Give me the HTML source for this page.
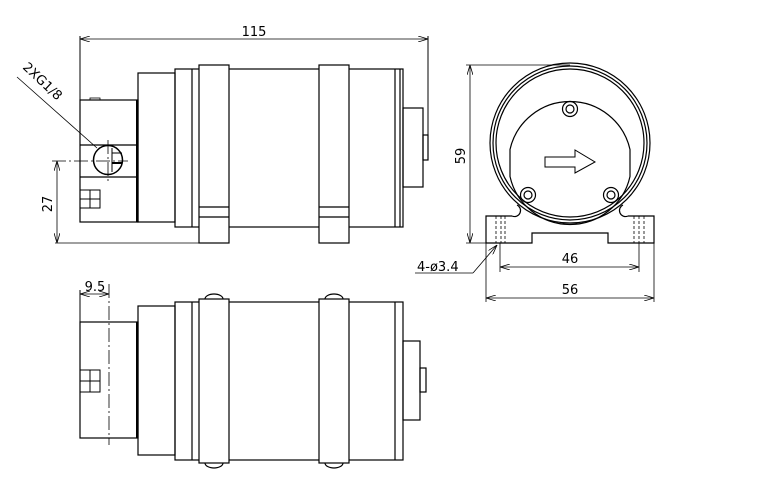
<!DOCTYPE html>
<html><head><meta charset="utf-8"><style>
html,body{margin:0;padding:0;background:#fff;}
svg{display:block;}
text{font-family:"DejaVu Sans","Liberation Sans",sans-serif;font-size:13px;fill:#000;}
</style></head><body>
<svg width="768" height="477" viewBox="0 0 768 477" xmlns="http://www.w3.org/2000/svg">
<defs>
<marker id="a" viewBox="0 0 10 6" refX="10" refY="3" markerWidth="10" markerHeight="6" orient="auto-start-reverse" markerUnits="userSpaceOnUse"><path d="M0,0 L10,3 L0,6" fill="none" stroke="#000" stroke-width="0.8"/></marker>
</defs>
<g fill="none" stroke="#000" stroke-width="1.2">
<!-- TOP VIEW -->
<line x1="80" y1="36" x2="80" y2="100" stroke-width="1"/>
<line x1="428" y1="36" x2="428" y2="140" stroke-width="1"/>
<line x1="80" y1="39" x2="428" y2="39" stroke-width="0.8" marker-start="url(#a)" marker-end="url(#a)"/>
<rect x="80" y="100" width="58" height="122"/>
<rect x="90" y="98" width="10" height="2" stroke-width="0.8"/>
<line x1="80" y1="145" x2="138" y2="145"/>
<line x1="80" y1="177" x2="138" y2="177"/>
<line x1="137" y1="100" x2="137" y2="222" stroke-width="2"/>
<rect x="138" y="73" width="37" height="149"/>
<rect x="175" y="69" width="228" height="158"/>
<line x1="192" y1="69" x2="192" y2="227"/>
<line x1="395" y1="69" x2="395" y2="227"/>
<line x1="400" y1="69" x2="400" y2="227"/>
<rect x="199" y="65" width="30" height="178" fill="#fff"/>
<rect x="319" y="65" width="30" height="178" fill="#fff"/>
<line x1="199" y1="207" x2="229" y2="207"/><line x1="199" y1="217" x2="229" y2="217"/>
<line x1="319" y1="207" x2="349" y2="207"/><line x1="319" y1="217" x2="349" y2="217"/>
<rect x="403" y="108" width="20" height="79"/>
<rect x="423" y="135" width="5" height="25"/>
<circle cx="108" cy="160" r="14.5" stroke-width="1.5"/>
<line x1="112" y1="148" x2="112" y2="172" stroke-width="1"/>
<line x1="112" y1="153" x2="122" y2="153" stroke-width="1"/>
<line x1="112" y1="163" x2="122" y2="163" stroke-width="2"/>
<line x1="52" y1="161" x2="128" y2="161" stroke-width="0.8" stroke-dasharray="14,3,2,3"/>
<line x1="108" y1="140" x2="108" y2="182" stroke-width="0.8" stroke-dasharray="14,3,2,3"/>
<line x1="55" y1="243" x2="199" y2="243" stroke-width="0.8"/>
<line x1="57" y1="161" x2="57" y2="243" stroke-width="0.8" marker-start="url(#a)" marker-end="url(#a)"/>
<rect x="80" y="190" width="20" height="18" stroke-width="1"/>
<line x1="90" y1="190" x2="90" y2="208" stroke-width="1"/>
<line x1="80" y1="199" x2="100" y2="199" stroke-width="1"/>
<line x1="17" y1="77" x2="97" y2="148" stroke-width="0.8"/>
<!-- BOTTOM VIEW -->
<line x1="80" y1="290" x2="80" y2="322" stroke-width="1"/>
<line x1="109" y1="284" x2="109" y2="445" stroke-width="0.8" stroke-dasharray="14,3,2,3"/>
<line x1="80" y1="294" x2="109" y2="294" stroke-width="0.8" marker-start="url(#a)" marker-end="url(#a)"/>
<rect x="80" y="322" width="58" height="116"/>
<line x1="137" y1="322" x2="137" y2="438" stroke-width="2"/>
<rect x="138" y="306" width="37" height="149"/>
<rect x="175" y="302" width="228" height="158"/>
<line x1="192" y1="302" x2="192" y2="460"/>
<line x1="395" y1="302" x2="395" y2="460"/>
<path d="M205,299 A9,5 0 0 1 223,299 M325,299 A9,5 0 0 1 343,299 M205,463 A9,5 0 0 0 223,463 M325,463 A9,5 0 0 0 343,463"/>
<rect x="199" y="299" width="30" height="164" fill="#fff"/>
<rect x="319" y="299" width="30" height="164" fill="#fff"/>
<rect x="403" y="341" width="17" height="79"/>
<rect x="420" y="368" width="6" height="24"/>
<rect x="80" y="370" width="20" height="22" stroke-width="1"/>
<line x1="90" y1="370" x2="90" y2="392" stroke-width="1"/>
<line x1="80" y1="381" x2="100" y2="381" stroke-width="1"/>
<!-- SIDE VIEW -->
<path d="M512,216 L486,216 L486,243 L532,243 L532,233 L608,233 L608,243 L654,243 L654,216 L628,216"/>
<path d="M512,216 A6,6 0 0 0 517,205 M628,216 A6,6 0 0 1 623,205"/>
<circle cx="570" cy="143" r="80"/>
<circle cx="570" cy="143" r="77"/>
<circle cx="570" cy="143" r="74"/>
<path d="M510,149.5 A61.5,61.5 0 0 1 630,149.5 L630,176.5 A61.5,61.5 0 0 1 510,176.5 Z"/>
<circle cx="570" cy="109" r="7.5"/><circle cx="570" cy="109" r="4"/>
<circle cx="528" cy="195" r="7.5"/><circle cx="528" cy="195" r="4"/>
<circle cx="611" cy="195" r="7.5"/><circle cx="611" cy="195" r="4"/>
<path d="M545,157 L575,157 L575,150 L595,162 L575,173 L575,167 L545,167 Z" stroke-width="1"/>
<g stroke-width="0.8" stroke-dasharray="3,2">
<line x1="496" y1="216" x2="496" y2="243"/><line x1="501" y1="216" x2="501" y2="243"/><line x1="505" y1="216" x2="505" y2="243"/>
<line x1="634" y1="216" x2="634" y2="243"/><line x1="639" y1="216" x2="639" y2="243"/><line x1="644" y1="216" x2="644" y2="243"/>
</g>
<g stroke-width="0.8">
<line x1="466" y1="65" x2="570" y2="65"/>
<line x1="466" y1="243" x2="486" y2="243"/>
<line x1="470" y1="65" x2="470" y2="243" marker-start="url(#a)" marker-end="url(#a)"/>
<line x1="500" y1="243" x2="500" y2="272"/>
<line x1="639" y1="243" x2="639" y2="272"/>
<line x1="500" y1="267" x2="639" y2="267" marker-start="url(#a)" marker-end="url(#a)"/>
<line x1="486" y1="243" x2="486" y2="302"/>
<line x1="654" y1="243" x2="654" y2="302"/>
<line x1="486" y1="298" x2="654" y2="298" marker-start="url(#a)" marker-end="url(#a)"/>
<line x1="415" y1="273" x2="473" y2="273"/>
<line x1="473" y1="273" x2="497" y2="245" marker-end="url(#a)"/>
</g>
</g>
<text x="254" y="36" text-anchor="middle">115</text>
<text transform="translate(52,204) rotate(-90)" text-anchor="middle">27</text>
<text transform="translate(22,68) rotate(43)">2XG1/8</text>
<text x="95" y="291" text-anchor="middle" font-size="12">9.5</text>
<text transform="translate(465,156) rotate(-90)" text-anchor="middle">59</text>
<text x="570" y="263" text-anchor="middle">46</text>
<text x="570" y="294" text-anchor="middle">56</text>
<text x="417" y="271">4-ø3.4</text>
</svg>
</body></html>
